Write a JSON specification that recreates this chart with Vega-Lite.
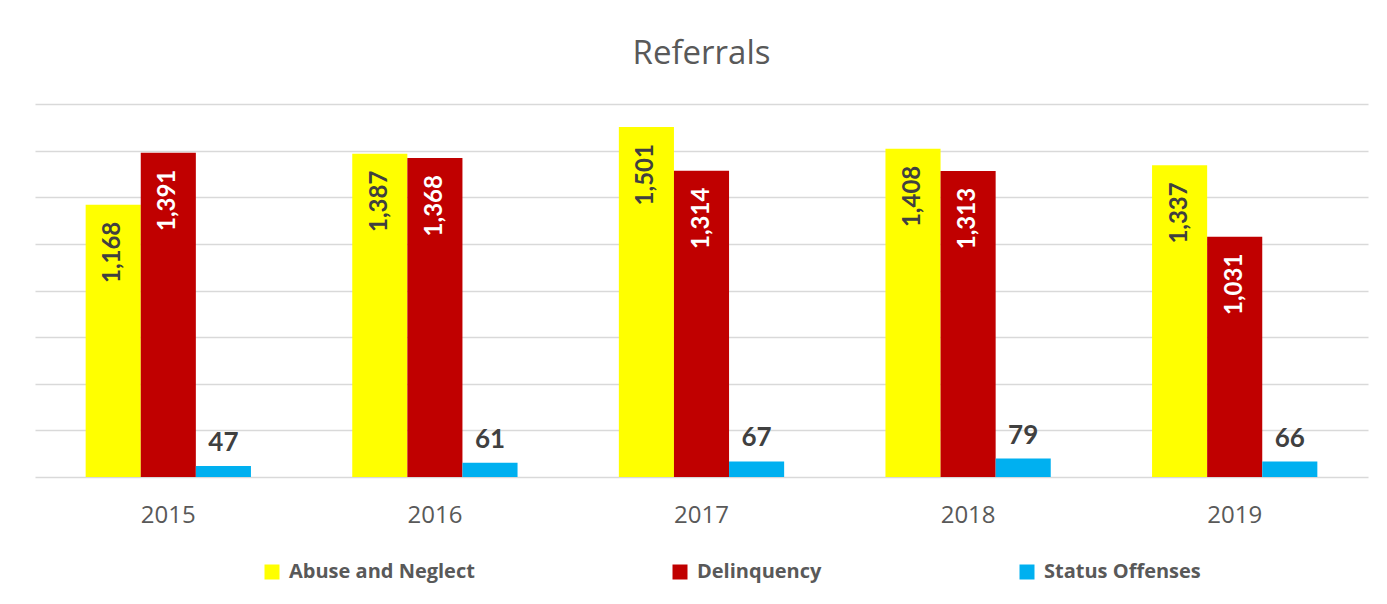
{
  "$schema": "https://vega.github.io/schema/vega-lite/v6.json",
  "width": 1333,
  "height": 373,
  "autosize": "none",
  "padding": {"left": 35, "top": 104, "right": 19, "bottom": 127},
  "background": "white",
  "title": {
    "text": "Referrals",
    "font": "Open Sans",
    "fontSize": 33,
    "fontWeight": "normal",
    "color": "#595959",
    "anchor": "middle",
    "offset": 33
  },
  "data": {
    "values": [
      {"year": "2015", "series": "Abuse and Neglect", "value": 1168},
      {"year": "2015", "series": "Delinquency", "value": 1391},
      {"year": "2015", "series": "Status Offenses", "value": 47},
      {"year": "2016", "series": "Abuse and Neglect", "value": 1387},
      {"year": "2016", "series": "Delinquency", "value": 1368},
      {"year": "2016", "series": "Status Offenses", "value": 61},
      {"year": "2017", "series": "Abuse and Neglect", "value": 1501},
      {"year": "2017", "series": "Delinquency", "value": 1314},
      {"year": "2017", "series": "Status Offenses", "value": 67},
      {"year": "2018", "series": "Abuse and Neglect", "value": 1408},
      {"year": "2018", "series": "Delinquency", "value": 1313},
      {"year": "2018", "series": "Status Offenses", "value": 79},
      {"year": "2019", "series": "Abuse and Neglect", "value": 1337},
      {"year": "2019", "series": "Delinquency", "value": 1031},
      {"year": "2019", "series": "Status Offenses", "value": 66}
    ]
  },
  "encoding": {
    "x": {
      "field": "year",
      "type": "nominal",
      "scale": {"paddingInner": 0.38, "paddingOuter": 0.19},
      "axis": {
        "title": null,
        "labelAngle": 0,
        "ticks": false,
        "domain": false,
        "labelFont": "Open Sans",
        "labelFontSize": 24,
        "labelColor": "#595959",
        "labelPadding": 26
      }
    },
    "xOffset": {
      "field": "series",
      "type": "nominal",
      "scale": {"domain": ["Abuse and Neglect", "Delinquency", "Status Offenses"], "paddingInner": 0, "paddingOuter": 0}
    },
    "y": {
      "field": "value",
      "type": "quantitative",
      "scale": {"domain": [0, 1600], "nice": false},
      "axis": {
        "title": null,
        "labels": false,
        "ticks": false,
        "domain": false,
        "values": [0, 200, 400, 600, 800, 1000, 1200, 1400, 1600],
        "gridColor": "#d9d9d9",
        "gridWidth": 1.5
      }
    }
  },
  "layer": [
    {
      "mark": {"type": "bar"},
      "encoding": {
        "color": {
          "field": "series",
          "type": "nominal",
          "scale": {
            "domain": ["Abuse and Neglect", "Delinquency", "Status Offenses"],
            "range": ["#FFFF00", "#C00000", "#00B0F0"]
          },
          "legend": {
            "title": null,
            "orient": "none",
            "direction": "horizontal",
            "legendX": 227,
            "legendY": 458,
            "symbolType": "square",
            "symbolSize": 225,
            "symbolStrokeWidth": 0,
            "labelFont": "Open Sans",
            "labelFontSize": 20,
            "labelFontWeight": "bold",
            "labelColor": "#595959",
            "labelOffset": 7,
            "columnPadding": 195,
            "labelLimit": 400
          }
        }
      }
    },
    {
      "transform": [{"filter": "datum.series !== 'Status Offenses'"}],
      "mark": {
        "type": "text",
        "angle": 270,
        "align": "right",
        "baseline": "middle",
        "dx": -17,
        "font": "Lato",
        "fontSize": 24,
        "fontWeight": "bold"
      },
      "encoding": {
        "text": {"field": "value", "type": "quantitative", "format": ","},
        "color": {
          "condition": {"test": "datum.series === 'Delinquency'", "value": "#FFFFFF"},
          "value": "#404040"
        }
      }
    },
    {
      "transform": [{"filter": "datum.series === 'Status Offenses'"}],
      "mark": {
        "type": "text",
        "align": "center",
        "baseline": "alphabetic",
        "dy": -15,
        "font": "Lato",
        "fontSize": 26,
        "fontWeight": "bold",
        "color": "#404040"
      },
      "encoding": {
        "text": {"field": "value", "type": "quantitative", "format": ","}
      }
    }
  ],
  "config": {
    "view": {"stroke": null}
  }
}
